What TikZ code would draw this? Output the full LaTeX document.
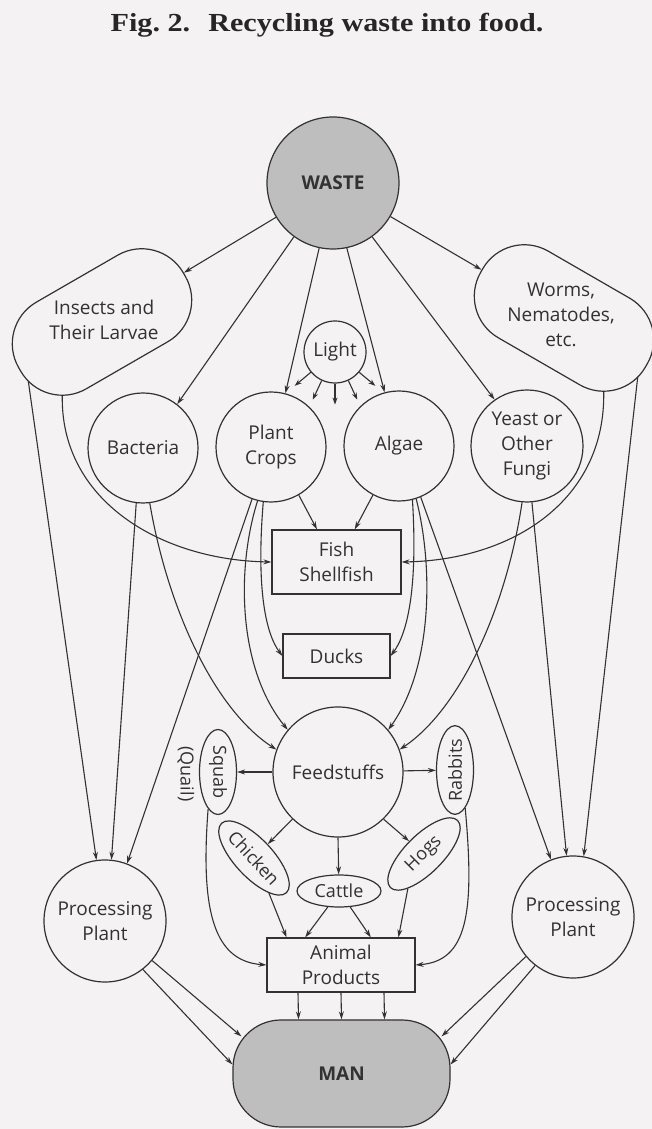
\documentclass[tikz,border=0pt]{standalone}
\usepackage{fontspec}
\usepackage{graphicx}
\setmainfont{Open Sans}
\newfontfamily\titlefont{Liberation Serif}
\usetikzlibrary{shapes.geometric,arrows.meta,calc}
\definecolor{ink}{RGB}{50,50,50}
\definecolor{bg}{RGB}{244,242,243}
\definecolor{gfill}{RGB}{190,190,190}
\begin{document}
\begin{tikzpicture}[x=1pt,y=1pt,
  every node/.style={text=ink, align=center, font=\fontsize{19}{25}\selectfont},
  arr/.style={draw=ink, line width=1.1pt, -{Stealth[length=8pt,width=5pt]}},
  sarr/.style={draw=ink, line width=1.1pt, -{Stealth[length=7pt,width=5pt]}},
  circ/.style={circle, draw=ink, line width=1.2pt, inner sep=0pt},
  box/.style={rectangle, draw=ink, line width=1.2pt, inner sep=0pt},
  blob/.style={rectangle, draw=ink, line width=1.2pt, rounded corners=48pt, minimum width=190pt, minimum height=100pt, inner sep=0pt},
  oval/.style={ellipse, draw=ink, line width=1.2pt, inner sep=0pt, font=\fontsize{18}{22}\selectfont},
  heavy/.style={font=\fontsize{19}{22}\selectfont\bfseries},
]
\fill[bg] (0,0) rectangle (652,1129);
\useasboundingbox (0,0) rectangle (652,1129);

\node[anchor=base, text=black!85, font={\titlefont\bfseries\fontsize{26}{30}\selectfont}] (title) at (327,1097) {\scalebox{1.16}[1]{Fig.~2.\hspace{0.6em}Recycling waste into food.}};

\node[circ, fill=gfill, minimum size=132pt, heavy] (waste) at (333,946) {WASTE};
\node[blob, rotate=30] (ins) at (102,807) {};
\node (insT) at (104,809) {Insects and\\Their Larvae};
\node[blob, rotate=-30] (worms) at (564,811) {};
\node (wormsT) at (561,814) {Worms,\\Nematodes,\\etc.};
\node[circ, minimum size=62pt] (light) at (335,777) {Light};
\node[circ, minimum size=110pt] (bact) at (143,681) {Bacteria};
\node[circ, minimum size=110pt] (pc) at (271,682) {Plant\\Crops};
\node[circ, minimum size=110pt] (alg) at (399,683) {Algae};
\node[circ, minimum size=112pt] (ye) at (527,683) {Yeast or\\Other\\Fungi};
\node[box, minimum width=129pt, minimum height=64pt] (fish) at (336.5,567) {Fish\\Shellfish};
\node[box, minimum width=107pt, minimum height=44pt] (ducks) at (336.5,473) {Ducks};
\node[circ, minimum size=130pt] (feed) at (338,357) {Feedstuffs};
\node[oval, rotate=-90, minimum width=85pt, minimum height=37pt] (sq) at (218,357) {Squab};
\node[rotate=-90, font=\fontsize{18}{22}\selectfont] (quail) at (186,355) {(Quail)};
\node[oval, rotate=90, minimum width=87pt, minimum height=37pt] (rb) at (455,359) {Rabbits};
\node[oval, rotate=-47, minimum width=95pt, minimum height=38pt] (ch) at (254,271) {Chicken};
\node[oval, rotate=45, minimum width=95pt, minimum height=38pt] (hg) at (424,275) {Hogs};
\node[oval, minimum width=84pt, minimum height=32pt] (cat) at (339,238) {Cattle};
\node[circ, minimum size=122pt] (ppl) at (105,208) {Processing\\Plant};
\node[circ, minimum size=122pt] (ppr) at (573,212) {Processing\\Plant};
\node[box, minimum width=148pt, minimum height=54pt] (ap) at (341,164) {Animal\\Products};
\node[box, rounded corners=48pt, fill=gfill, minimum width=217pt, minimum height=107pt, heavy] (man) at (341.5,55.5) {MAN};

% points on the rounded border of the two tilted blobs
\coordinate (insP) at ($(ins.center)+(-73.7,-59.2)$);
\coordinate (insF) at ($(ins.center)+(-39.7,-73.3)$);
\coordinate (wormsP) at ($(worms.center)+(73.7,-59.2)$);
\coordinate (wormsF) at ($(worms.center)+(39.7,-73.3)$);

% from waste
\draw[arr] (waste) -- (ins);
\draw[arr] (waste) -- (worms);
\draw[arr] (waste.234) -- (bact.52);
\draw[arr] (waste.258) -- (pc.75);
\draw[arr] (waste.-78) -- (alg.105);
\draw[arr] (waste.-54) -- (ye.125);
% light
\foreach \a in {-140,-115,-90,-65,-40} \draw[sarr] (light.\a) -- ++(\a:21);
% fish
\draw[arr] (pc.-60) -- ($(fish.north west)!0.35!(fish.north east)$);
\draw[arr] (alg.-118) -- ($(fish.north west)!0.64!(fish.north east)$);
\draw[arr] (insF) .. controls (60,629) and (160,569) .. (fish.west);
\draw[arr] (wormsF) .. controls (606,629) and (513,569) .. (fish.east);
% ducks
\draw[arr] (pc.-98) .. controls (256,539) and (266,495) .. (ducks.west);
\draw[arr] (alg.-76) .. controls (418,539) and (407,495) .. (ducks.east);
% feedstuffs
\draw[arr] (pc.-104) .. controls (236,560) and (238,460) .. (feed.140);
\draw[arr] (alg.-72) .. controls (434,560) and (432,460) .. (feed.40);
\draw[arr] (bact.-83) .. controls (168,519) and (215,419) .. (feed.160);
\draw[arr] (ye.-95) .. controls (506,519) and (459,419) .. (feed.20);
% processing plants
\draw[arr] (insP) -- (ppl.98);
\draw[arr] (bact.-97) -- (ppl.84);
\draw[arr] (pc.-110) -- (ppl.69);
\draw[arr] (alg.-67) -- (ppr.111);
\draw[arr] (ye.-85) -- (ppr.96);
\draw[arr] (wormsP) -- (ppr.80);
% feedstuffs out
\draw[arr] (feed) -- (sq);
\draw[arr] (feed) -- (rb);
\draw[arr] (feed.-134) -- (ch);
\draw[arr] (feed.south) -- (cat);
\draw[arr] (feed.-46) -- (hg);
% animal products
\draw[arr] (sq.-15) .. controls (200,215) and (215,168) .. (ap.west);
\draw[arr] (rb.195) .. controls (475,215) and (467,168) .. (ap.east);
\draw[arr] (ch.-20) -- ($(ap.north west)!0.135!(ap.north east)$);
\draw[arr] (cat.-125) -- ($(ap.north west)!0.26!(ap.north east)$);
\draw[arr] (cat.-55) -- ($(ap.north west)!0.70!(ap.north east)$);
\draw[arr] (hg.200) -- ($(ap.north west)!0.885!(ap.north east)$);
% to man
\draw[arr] ([xshift=-43pt]ap.south) -- ([xshift=-43pt]man.north);
\draw[arr] (ap.south) -- (man.north);
\draw[arr] ([xshift=43pt]ap.south) -- ([xshift=43pt]man.north);
\draw[arr] (ppl.-40) -- ($(man.north west)+(9,-17)$);
\draw[arr] (ppl.-52) -- ($(man.west)+(0,9)$);
\draw[arr] (ppr.-140) -- ($(man.north east)+(-9,-17)$);
\draw[arr] (ppr.-128) -- ($(man.east)+(0,9)$);
\end{tikzpicture}
\end{document}
